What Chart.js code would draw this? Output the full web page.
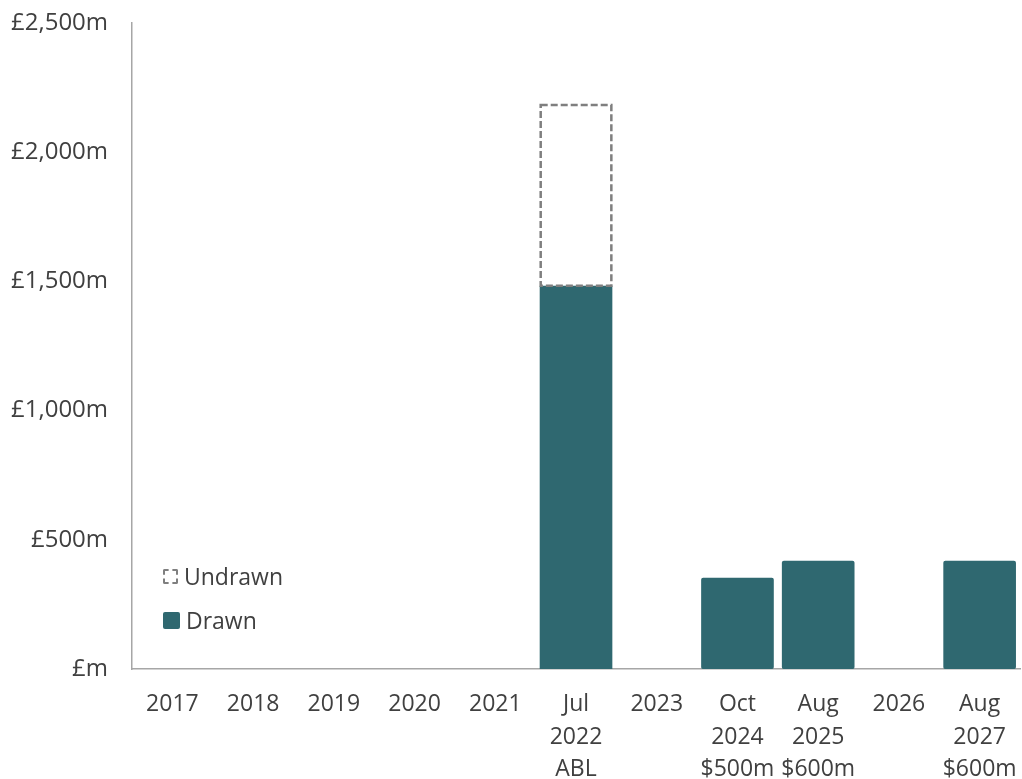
<!DOCTYPE html>
<html lang="en">
<head>
<meta charset="UTF-8">
<title>Debt maturity</title>
<script src="https://cdn.jsdelivr.net/npm/chart.js"></script>
<style>
  html, body { margin: 0; padding: 0; background: #fff; }
  .wrap { position: relative; width: 1022px; height: 779px; }
  .legend { position: absolute; left: 163px; top: 560px; font-family: "Open Sans", sans-serif; font-size: 23px; color: #404040; }
  .legend div { display: flex; align-items: center; height: 32px; margin-bottom: 12px; }
  .legend .box { width: 15px; height: 15px; margin-right: 6px; box-sizing: border-box; border-radius: 2px; }
  .legend .undrawn { border: 2px dashed #7f7f7f; }
  .legend .drawn { background: #2f6870; width: 17px; height: 17px; }
</style>
</head>
<body>
<div class="wrap">
  <canvas id="chart" width="1022" height="779"></canvas>
  <div class="legend">
    <div><span class="box undrawn"></span>Undrawn</div>
    <div><span class="box drawn"></span>Drawn</div>
  </div>
</div>
<script>
const categories = [
  "2017", "2018", "2019", "2020", "2021",
  ["Jul", "2022", "ABL"], "2023",
  ["Oct", "2024", "$500m"], ["Aug", "2025", "$600m"],
  "2026", ["Aug", "2027", "$600m"]
];
const drawn   = [0, 0, 0, 0, 0, 1483, 0, 353, 419, 0, 419];
const undrawn = [0, 0, 0, 0, 0, 700, 0, 0, 0, 0, 0];
const yTicks  = [0, 500, 1000, 1500, 2000, 2500];

const textColor = '#404040';
const axisColor = '#a6a6a6';
const font = '"Open Sans", sans-serif';

// bars don't do dashed borders, so draw the undrawn outline here
const dashedOutline = {
  id: 'dashedOutline',
  afterDatasetsDraw(chart) {
    const meta = chart.getDatasetMeta(1);
    const ctx = chart.ctx;
    ctx.save();
    ctx.strokeStyle = '#7f7f7f';
    ctx.lineWidth = 2.5;
    ctx.setLineDash([7, 3]);
    meta.data.forEach((bar, i) => {
      if (!undrawn[i]) return;
      const left = bar.x - bar.width / 2;
      ctx.strokeRect(left + 1, bar.y, bar.width - 2, bar.base - bar.y);
    });
    ctx.restore();
  }
};

new Chart(document.getElementById('chart'), {
  type: 'bar',
  data: {
    labels: categories,
    datasets: [
      { label: 'Drawn', data: drawn, backgroundColor: '#2f6870', borderRadius: 2, borderSkipped: false },
      { label: 'Undrawn', data: undrawn, backgroundColor: 'rgba(0,0,0,0)' }
    ]
  },
  options: {
    responsive: false,
    animation: false,
    layout: { padding: { left: -13, right: 2, top: 0, bottom: -26 } },
    datasets: { bar: { barPercentage: 0.9, categoryPercentage: 1 } },
    plugins: { legend: { display: false }, tooltip: { enabled: false } },
    scales: {
      x: {
        stacked: true,
        afterFit(axis) { axis.paddingLeft = 0; axis.paddingRight = 0; },
        grid: { display: false, drawTicks: false },
        border: { display: true, color: axisColor, width: 1.5 },
        ticks: {
          color: textColor, padding: 19, maxRotation: 0, autoSkip: false,
          font: { family: font, size: 23, lineHeight: 1.42 }
        }
      },
      y: {
        stacked: true,
        min: 0, max: 2500,
        afterBuildTicks(axis) { axis.ticks = yTicks.map(v => ({ value: v })); },
        afterFit(axis) { axis.paddingTop = 23; },
        grid: { display: false, drawTicks: false },
        border: { display: true, color: axisColor, width: 1.5 },
        ticks: {
          color: textColor, padding: 24,
          font: { family: font, size: 24 },
          callback: v => v === 0 ? '£m' : '£' + v.toLocaleString('en-GB') + 'm'
        }
      }
    }
  },
  plugins: [dashedOutline]
});
</script>
</body>
</html>
